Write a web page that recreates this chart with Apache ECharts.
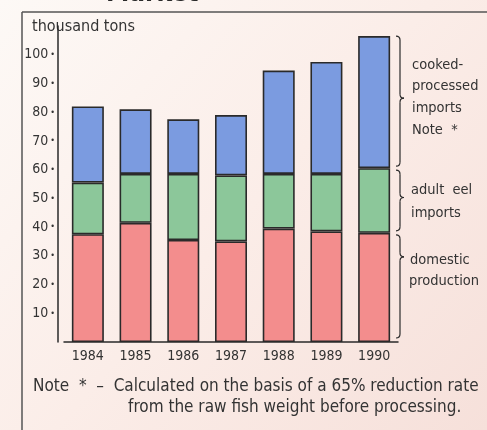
<!DOCTYPE html>
<html>
<head>
<meta charset="utf-8">
<script src="https://cdn.jsdelivr.net/npm/echarts@6/dist/echarts.min.js"></script>
<style>
  html, body { margin: 0; padding: 0; }
  #chart { width: 487px; height: 430px; }
</style>
</head>
<body>
<div id="chart"></div>
<script>
// Eel supply by source, thousand tons
const years = ['1984', '1985', '1986', '1987', '1988', '1989', '1990'];
const domesticProduction = [37.5, 41.5, 35.5, 35, 39.5, 38.5, 38];
const adultEelImports = [18, 17, 23, 23, 19, 20, 22.5];
const cookedProcessedImports = [26.5, 22.5, 19, 21, 36, 39, 46];
const yTicks = [10, 20, 30, 40, 50, 60, 70, 80, 90, 100];

const FONT = '"Liberation Sans Narrow", "DejaVu Sans Condensed", "Liberation Sans", Arial, sans-serif';
const TEXT = '#333333';
const EDGE = '#2a2a2a';

const chart = echarts.init(document.getElementById('chart'), null, { renderer: 'canvas' });

function barSeries(name, data, color) {
  return {
    name, type: 'bar', stack: 'supply', data,
    barWidth: 32,
    itemStyle: { color, borderColor: EDGE, borderWidth: 1.6 },
    silent: true
  };
}

chart.setOption({
  animation: false,
  backgroundColor: {
    type: 'linear', x: 0, y: 0, x2: 1, y2: 1,
    colorStops: [
      { offset: 0, color: '#fdf9f6' },
      { offset: 0.5, color: '#fbede8' },
      { offset: 1, color: '#f6e0da' }
    ]
  },
  grid: { left: 64, right: 89, top: 26, bottom: 88 },
  xAxis: {
    type: 'category', data: years,
    axisLine: { lineStyle: { color: EDGE, width: 1.5 } },
    axisTick: { show: false },
    axisLabel: { color: TEXT, fontSize: 14, fontFamily: FONT, margin: 7 }
  },
  yAxis: {
    type: 'value', min: 0, max: 110, interval: 10, offset: 6,
    splitLine: { show: false },
    axisLine: { show: true, lineStyle: { color: EDGE, width: 1.5 } },
    axisTick: { show: false },
    axisLabel: {
      margin: 3,
      formatter: v => yTicks.includes(v) ? '{v|' + v + '}{d|•}' : '',
      rich: {
        v: { color: TEXT, fontSize: 14, fontFamily: FONT },
        d: { color: TEXT, fontSize: 9, fontFamily: FONT, padding: [0, 0, 0, 2] }
      }
    }
  },
  series: [
    barSeries('domestic production', domesticProduction, '#f38d8d'),
    barSeries('adult eel imports', adultEelImports, '#8cc79a'),
    barSeries('cooked-processed imports', cookedProcessedImports, '#7b9be0')
  ]
});

const stroke = { stroke: EDGE, fill: null, lineWidth: 1.2 };

// Curly brace "}" spanning y0..y1 at x0, tip at ym, built from curves and lines
function brace(x0, y0, y1, ym, w) {
  const m = x0 + w / 2, r = 4;
  const q = (x1, y1_, cx, cy, x2, y2) => ({
    type: 'bezierCurve', shape: { x1, y1: y1_, cpx1: cx, cpy1: cy, x2, y2 }, style: stroke, silent: true
  });
  const l = (x1, y1_, x2, y2) => ({ type: 'line', shape: { x1, y1: y1_, x2, y2 }, style: stroke, silent: true });
  return [
    q(x0, y0, m, y0, m, y0 + r),
    l(m, y0 + r, m, ym - r),
    q(m, ym - r, m, ym, x0 + w, ym),
    q(x0 + w, ym, m, ym, m, ym + r),
    l(m, ym + r, m, y1 - r),
    q(m, y1 - r, m, y1, x0, y1)
  ];
}

// Brace extents follow the stacked segments of the last year
const last = years.length - 1;
const py = v => chart.convertToPixel({ yAxisIndex: 0 }, v);
const b0 = py(0);
const b1 = py(domesticProduction[last]);
const b2 = py(domesticProduction[last] + adultEelImports[last]);
const b3 = py(domesticProduction[last] + adultEelImports[last] + cookedProcessedImports[last]);
const bx = 396, bw = 8;

function label(x, y, text, size) {
  return { type: 'text', x, y, style: { text, fill: TEXT, font: (size || 14) + 'px ' + FONT, textVerticalAlign: 'middle' }, silent: true };
}

const graphics = [
  // frame
  { type: 'line', shape: { x1: 22, y1: 12, x2: 487, y2: 12 }, style: { stroke: '#555', lineWidth: 1.5 }, silent: true },
  { type: 'line', shape: { x1: 22, y1: 12, x2: 22, y2: 430 }, style: { stroke: '#555', lineWidth: 1.5 }, silent: true },
  // heading, cut by the top edge of the page
  { type: 'text', x: 106, y: -6, style: { text: 'Market', fill: '#2a2a2a', font: 'bold 26px ' + FONT, textVerticalAlign: 'middle' }, silent: true },
  label(32, 27, 'thousand tons', 16),
  ...brace(bx, b3, b2 - 2, (b3 + b2) / 2 - 4, bw),
  ...brace(bx, b2 + 2, b1 - 2, (b2 + b1) / 2 - 3, bw),
  ...brace(bx, b1 + 2, b0 - 4, b1 + 0.22 * (b0 - b1), bw),
  // series annotations
  label(412, 65, 'cooked-', 14.5),
  label(412, 86, 'processed', 14.5),
  label(412, 108, 'imports', 14.5),
  label(412, 130, 'Note  *', 14.5),
  label(411, 190, 'adult  eel', 14.5),
  label(411, 213, 'imports', 14.5),
  label(410, 260, 'domestic', 14.5),
  label(409, 281, 'production', 14.5),
  // footnote
  label(33, 387, 'Note  *  –  Calculated on the basis of a 65% reduction rate', 17),
  label(128, 408, 'from the raw fish weight before processing.', 17)
];

chart.setOption({ graphic: graphics });
</script>
</body>
</html>
